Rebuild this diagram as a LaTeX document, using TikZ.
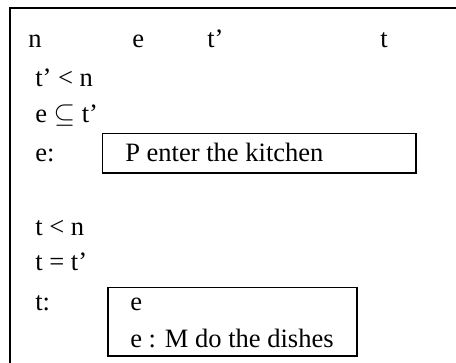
\documentclass[tikz,border=0pt]{standalone}
\usepackage{fontspec}
\setmainfont{Liberation Serif}
\begin{document}
\begin{tikzpicture}[x=0.75pt,y=-0.75pt,
  txt/.style={anchor=base west,inner sep=0pt,font=\fontsize{19.9}{24}\selectfont},
  frame/.style={draw=black,line width=1.5pt},
  boxline/.style={draw=black,line width=1.2pt}]
\useasboundingbox (0,0) rectangle (456,363);
\clip (0,0) rectangle (456,363);
\draw[frame] (9.5,475) -- (9.5,8.5) -- (600,8.5);
% row 1
\node[txt] (hn) at (28,48) {n};
\node[txt] (he) at (132,48) {e};
\node[txt] (htp) at (207,48) {t’};
\node[txt] (ht) at (380,48) {t};
% first block
\node[txt] (r1) at (35,87) {t’ < n};
\node[txt] (r2) at (35,123) {e $\subseteq$ t’};
\node[txt] (r3) at (35,162) {e:};
\draw[boxline] (102.5,133.5) rectangle (416,173);
\node[txt] (b1) at (125,162) {P enter the kitchen};
% second block
\node[txt] (s1) at (35,235) {t < n};
\node[txt] (s2) at (35,270) {t = t’};
\node[txt] (s3) at (35,310) {t:};
\draw[boxline] (108,287.5) rectangle (357,356);
\node[txt] (c1) at (130,310) {e};
\node[txt] (c2) at (130,347) {e : M do the dishes};
\end{tikzpicture}
\end{document}
